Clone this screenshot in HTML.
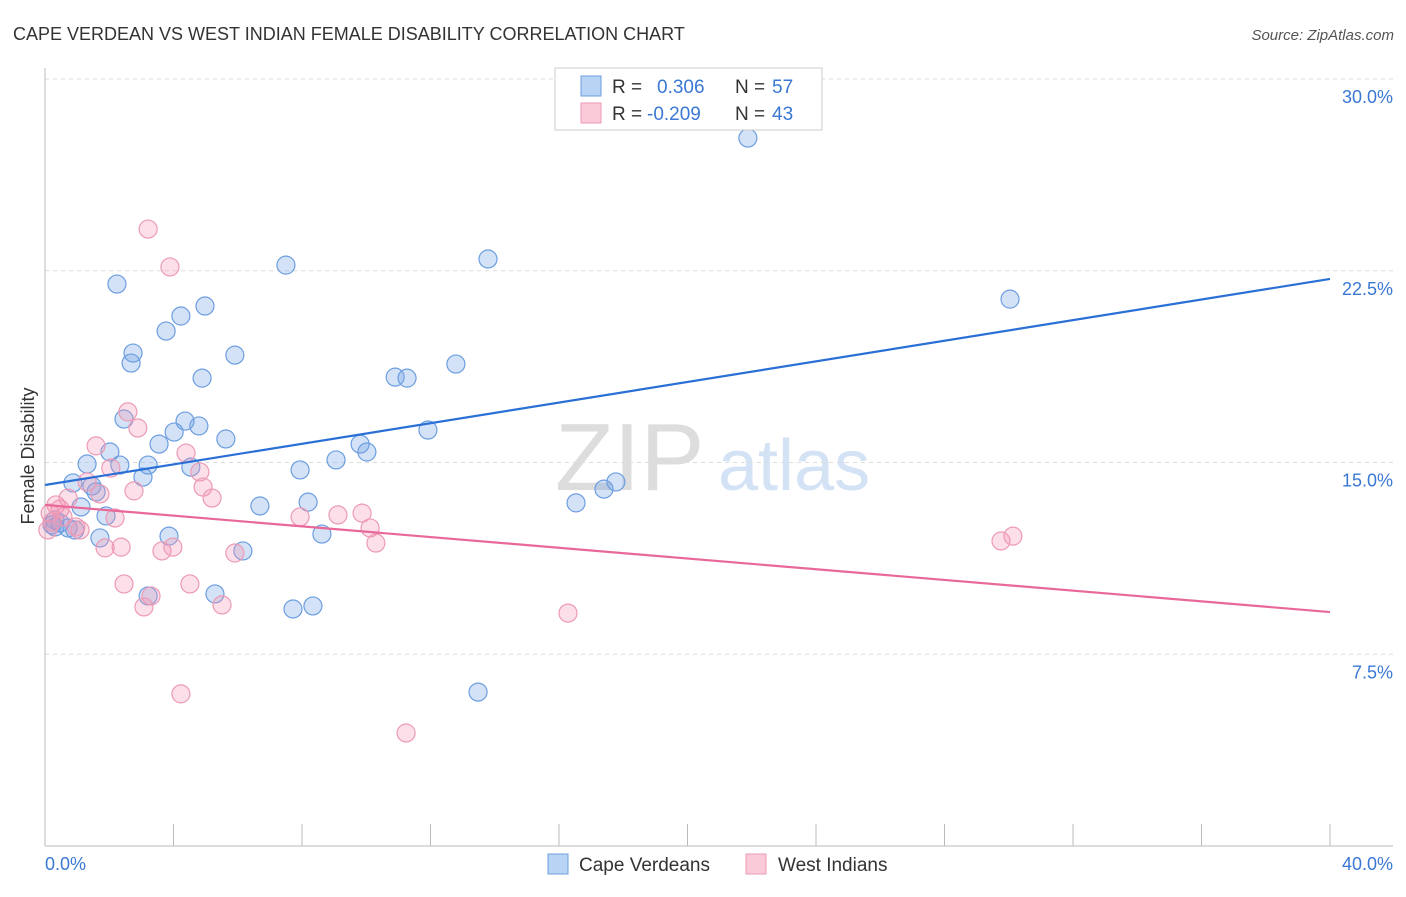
<!DOCTYPE html>
<html><head><meta charset="utf-8"><style>
body{margin:0;background:#fff;font-family:"Liberation Sans",sans-serif;}
svg text{font-family:"Liberation Sans",sans-serif;}
</style></head><body>
<svg id="chart" width="1406" height="892" xmlns="http://www.w3.org/2000/svg">
<text x="13" y="40" font-size="18" fill="#333">CAPE VERDEAN VS WEST INDIAN FEMALE DISABILITY CORRELATION CHART</text>
<text x="1394" y="40" font-size="15" fill="#555" text-anchor="end" font-style="italic">Source: ZipAtlas.com</text>
<g>
<text x="555" y="490" font-size="96" fill="#ddd" font-family="Liberation Serif,serif">ZIP</text>
<text x="718" y="490" font-size="72" fill="#d4e2f5">atlas</text>
</g>
<g id="grid"></g>
<g id="axes"></g>
<g id="marks"></g>
<text transform="translate(34,456) rotate(-90)" font-size="18" fill="#333" text-anchor="middle">Female Disability</text>
<g>
<rect x="555" y="68" width="267" height="62" fill="#fff" stroke="#ccc"/>
<rect x="581" y="76" width="20" height="20" fill="#b9d3f5" stroke="#6c9ee0"/>
<rect x="581" y="103" width="20" height="20" fill="#fbcad8" stroke="#ec9ab5"/>
<text x="612" y="93" font-size="19" fill="#333">R = </text>
<text x="657" y="93" font-size="19" fill="#3a78d4">0.306</text>
<text x="735" y="93" font-size="19" fill="#333">N = </text>
<text x="772" y="93" font-size="19" fill="#3a78d4">57</text>
<text x="612" y="120" font-size="19" fill="#333">R = </text>
<text x="647" y="120" font-size="19" fill="#3a78d4">-0.209</text>
<text x="735" y="120" font-size="19" fill="#333">N = </text>
<text x="772" y="120" font-size="19" fill="#3a78d4">43</text>
</g>
<g>
<rect x="548" y="854" width="20" height="20" fill="#b9d3f5" stroke="#6c9ee0"/>
<text x="579" y="871" font-size="19" fill="#333">Cape Verdeans</text>
<rect x="746" y="854" width="20" height="20" fill="#fbcad8" stroke="#ec9ab5"/>
<text x="778" y="871" font-size="19" fill="#333">West Indians</text>
</g>
</svg>
<script>
const blueX=[21.88,13.79,7.50,30.04,2.24,4.98,4.23,3.77,2.74,2.68,5.91,4.89,10.90,11.27,12.79,2.46,4.36,4.79,4.02,5.63,3.55,9.81,10.02,11.92,2.02,1.31,2.33,3.21,4.54,9.06,7.94,3.05,0.87,1.46,1.59,17.77,17.40,16.53,6.69,8.19,1.12,1.90,0.31,0.22,0.47,0.72,0.93,1.71,3.86,8.62,6.16,3.21,5.29,7.72,8.34,13.48,0.31];
const blueY=[27.69,22.96,22.72,21.39,21.98,21.12,20.73,20.14,19.28,18.89,19.20,18.30,18.34,18.30,18.85,16.70,16.62,16.43,16.19,15.92,15.72,15.72,15.41,16.27,15.41,14.94,14.90,14.90,14.82,15.10,14.71,14.43,14.20,14.08,13.85,14.24,13.96,13.42,13.30,13.45,13.26,12.91,12.75,12.56,12.63,12.44,12.36,12.05,12.12,12.20,11.54,9.78,9.86,9.27,9.39,6.02,12.48];
const pinkX=[3.21,3.89,2.58,2.89,1.59,4.39,4.82,2.05,4.92,5.20,2.77,1.31,1.71,0.72,0.34,0.47,0.16,0.56,0.96,1.09,2.18,7.94,9.12,9.87,10.12,10.30,2.37,1.87,3.64,3.98,5.91,2.46,4.51,3.30,3.08,5.51,4.23,11.24,16.28,29.76,30.13,0.09,0.22];
const pinkY=[24.13,22.65,16.98,16.35,15.65,15.37,14.63,14.78,14.04,13.61,13.89,14.24,13.77,13.61,13.34,13.18,13.02,12.87,12.48,12.36,12.83,12.87,12.95,13.02,12.44,11.85,11.69,11.66,11.54,11.69,11.46,10.25,10.25,9.78,9.35,9.43,5.95,4.42,9.11,11.93,12.12,12.36,12.67];
const blueTrend=[14.12,22.18];
const pinkTrend=[13.34,9.15];
const yTicks=[7.5,15,22.5,30];
const yTickLabels=["7.5%","15.0%","22.5%","30.0%"];
const xTickLabels=["0.0%","40.0%"];
const NS="http://www.w3.org/2000/svg";
const X=v=>45+v/40*1285, Y=v=>846-v/30*767;
function mk(t,a,p){const e=document.createElementNS(NS,t);for(const k in a)e.setAttribute(k,a[k]);p.appendChild(e);return e;}
const grid=document.getElementById('grid'),axes=document.getElementById('axes'),marks=document.getElementById('marks');
yTicks.forEach((t,i)=>{
 const l=mk('line',{x1:45,x2:1393,y1:Y(t),y2:Y(t),stroke:'#ddd','stroke-dasharray':'4,4'},grid);
 
 
 const tx=mk('text',{x:1393,y:Y(t)+24,'font-size':18,fill:'#3a78d4','text-anchor':'end'},axes);
 tx.textContent=yTickLabels[i];
 
 
});
mk('line',{x1:45,x2:45,y1:68,y2:846,stroke:'#bbb'},axes);
mk('line',{x1:45,x2:1393,y1:846,y2:846,stroke:'#bbb'},axes);
for(let i=0;i<=10;i++){const x=X(i*4);mk('line',{x1:x,x2:x,y1:824,y2:846,stroke:'#bbb'},axes);}
const xl=mk('text',{x:45,y:870,'font-size':18,fill:'#3a78d4'},axes);xl.textContent=xTickLabels[0];


const xr=mk('text',{x:1393,y:870,'font-size':18,fill:'#3a78d4','text-anchor':'end'},axes);xr.textContent=xTickLabels[1];


function pts(xs,ys,fill,stroke,name){xs.forEach((v,i)=>{
 const c=mk('circle',{cx:X(v),cy:Y(ys[i]),r:9,fill:fill,stroke:stroke,'stroke-width':1.2},marks);
 
 
});}
pts(blueX,blueY,'rgba(110,160,230,0.3)','#6c9ee0','cape-verdean-point');
pts(pinkX,pinkY,'rgba(245,150,180,0.3)','#ec9ab5','west-indian-point');
const bl=mk('line',{x1:X(0),y1:Y(blueTrend[0]),x2:X(40),y2:Y(blueTrend[1]),stroke:'#2a6fd6','stroke-width':2.2},marks);


const pl=mk('line',{x1:X(0),y1:Y(pinkTrend[0]),x2:X(40),y2:Y(pinkTrend[1]),stroke:'#e8689a','stroke-width':2.2},marks);


</script>
</body></html>
